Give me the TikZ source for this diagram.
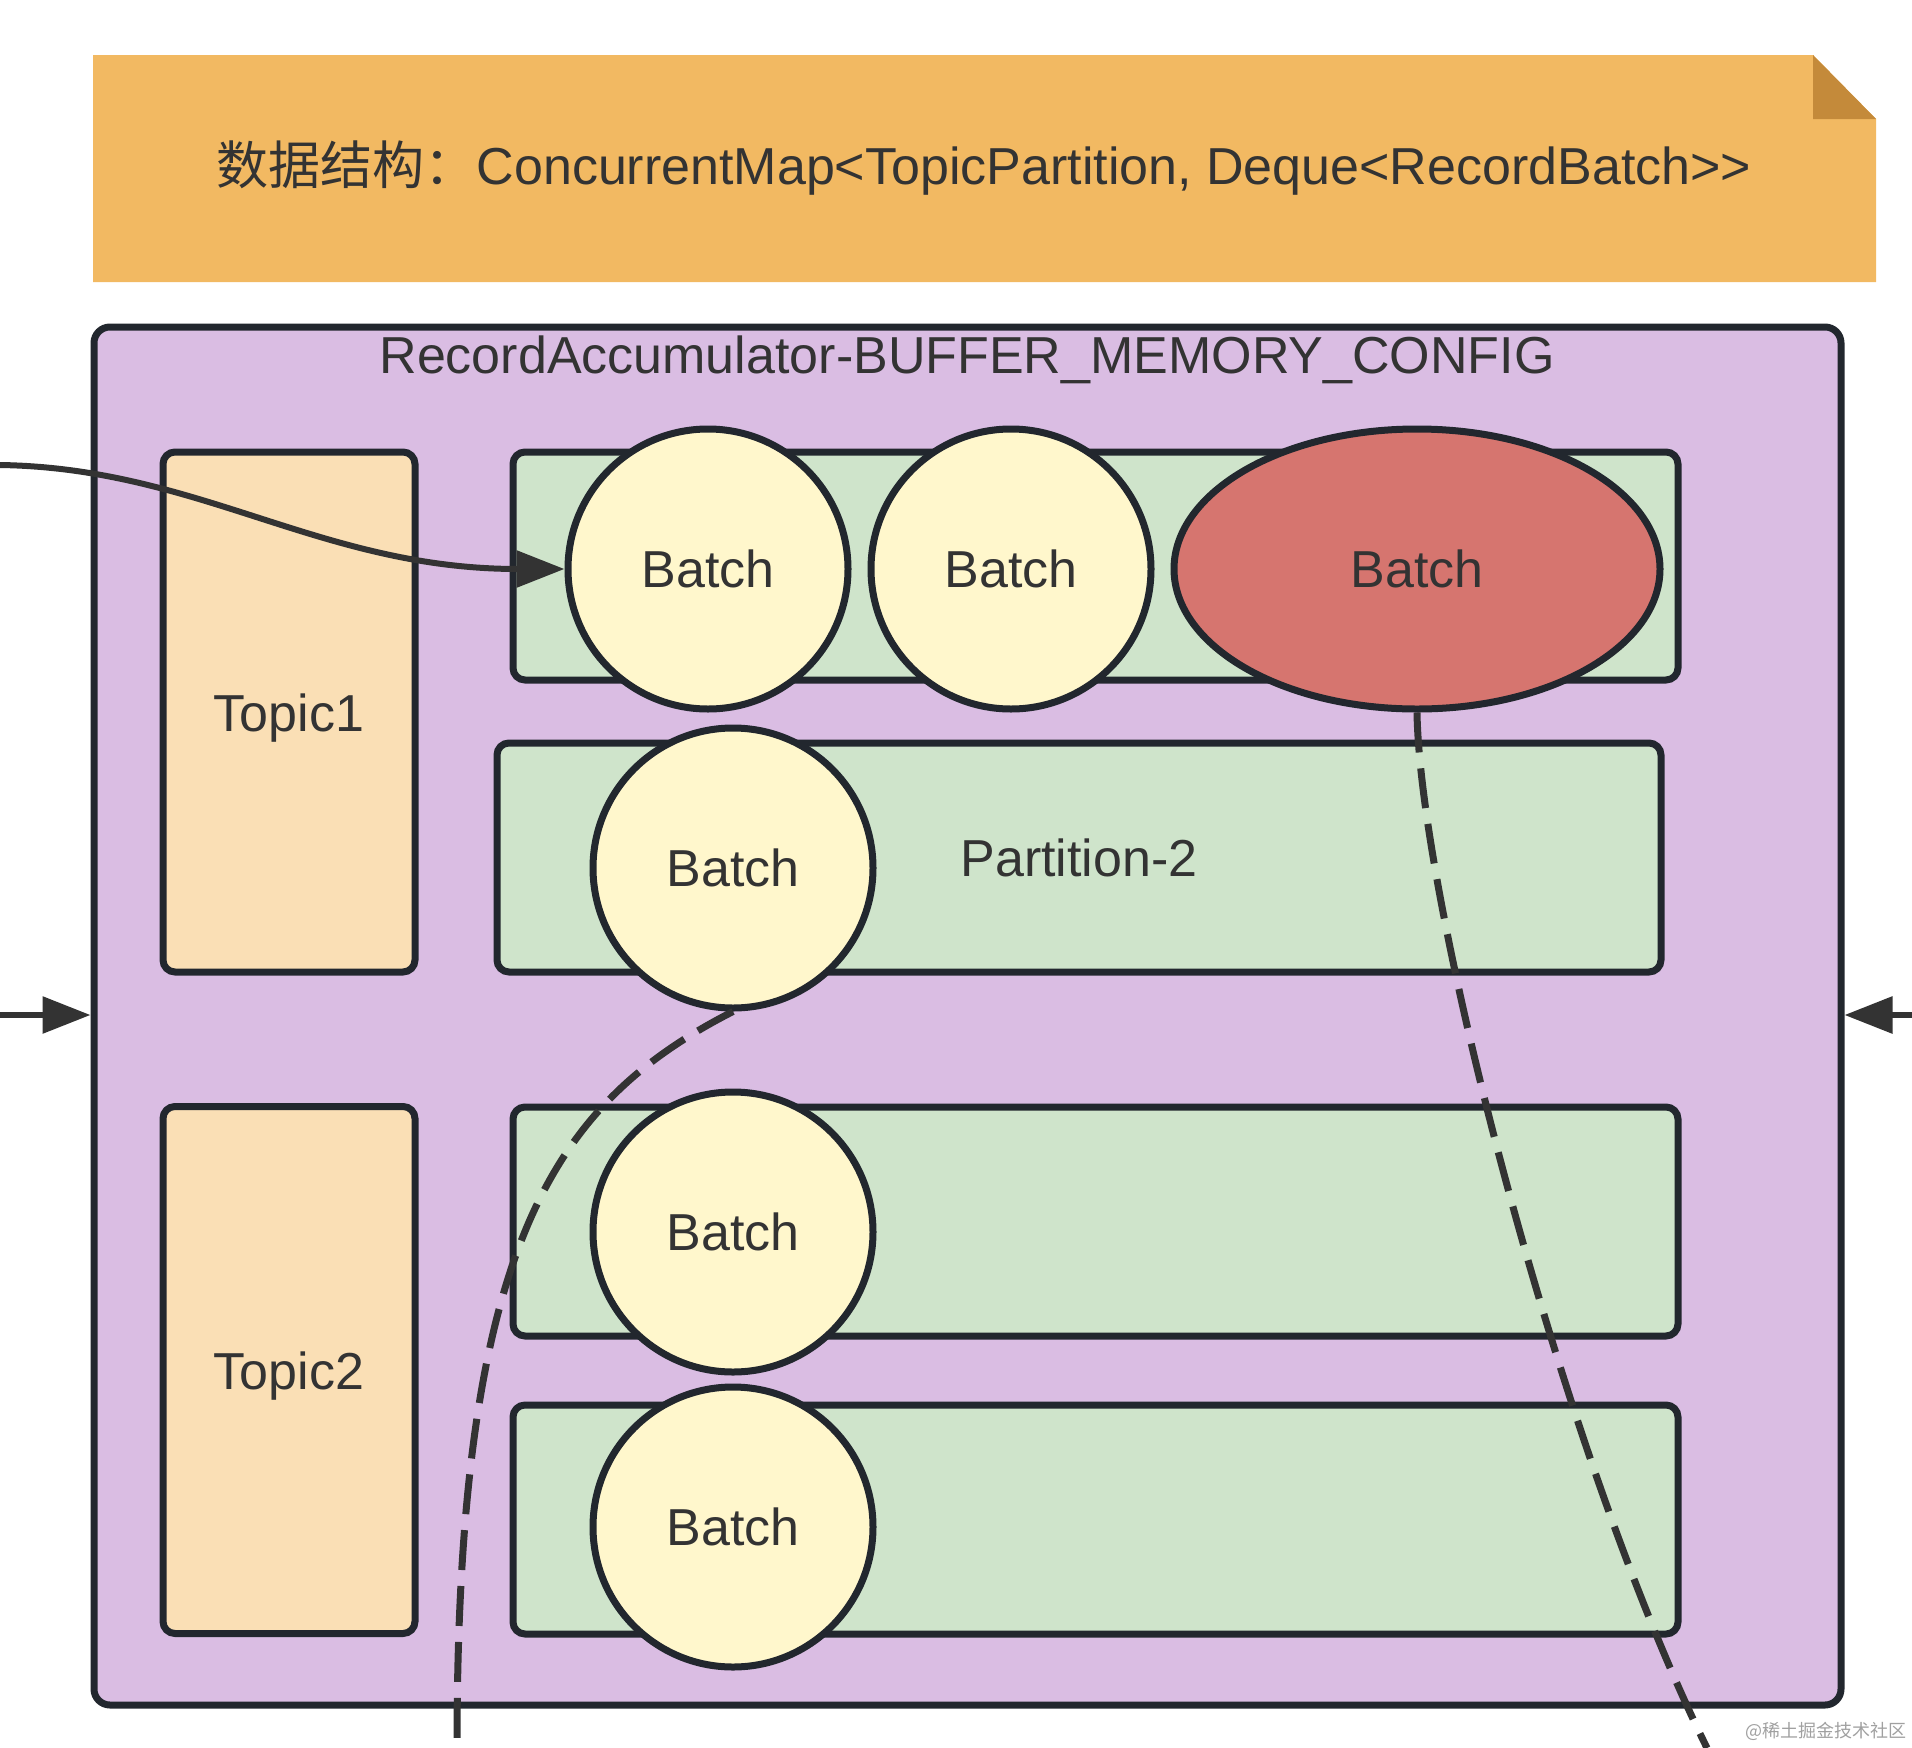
\documentclass[tikz,border=0pt]{standalone}
\usepackage{fontspec}
\setmainfont{Liberation Sans}
\newfontfamily\cjk{Noto Sans CJK SC}
\usetikzlibrary{arrows.meta,shapes.geometric}
\definecolor{notefill}{HTML}{F2B962}
\definecolor{folddark}{HTML}{C48A3A}
\definecolor{accfill}{HTML}{DABDE3}
\definecolor{topicfill}{HTML}{FADFB5}
\definecolor{partfill}{HTML}{CFE4CB}
\definecolor{batchfill}{HTML}{FFF7CC}
\definecolor{redfill}{HTML}{D6756F}
\definecolor{edge}{HTML}{22272E}
\definecolor{txt}{HTML}{333333}
\definecolor{wm}{HTML}{A0A0A0}
\begin{document}
\begin{tikzpicture}[x=1pt,y=-1pt,
  bigtext/.style={font=\fontsize{52}{60}\selectfont, text=txt},
  accbox/.style={draw=edge, line width=7pt, rounded corners=16pt, fill=accfill, inner sep=0pt},
  topicbox/.style={draw=edge, line width=7pt, rounded corners=12pt, fill=topicfill, inner sep=0pt, bigtext},
  partbox/.style={draw=edge, line width=7pt, rounded corners=12pt, fill=partfill, inner sep=0pt, bigtext},
  batch/.style={circle, draw=edge, line width=7pt, fill=batchfill, minimum size=280pt, inner sep=0pt, bigtext},
  redbatch/.style={ellipse, draw=edge, line width=7pt, fill=redfill, minimum width=486pt, minimum height=280pt, inner sep=0pt, bigtext},
  conn/.style={draw=txt, line width=6pt, -{Triangle[length=48pt,width=36pt]}},
  dashconn/.style={draw=txt, line width=7pt, dash pattern=on 40pt off 16pt}
]
\useasboundingbox (0,0) rectangle (1912,1748);
% note
\fill[notefill] (93,55) -- (1813,55) -- (1876,119) -- (1876,282) -- (93,282) -- cycle;
\fill[folddark] (1813,55) -- (1813,119) -- (1876,119) -- cycle;
\node[bigtext] (notetext) at (984,168) {{\cjk 数据结构：}ConcurrentMap<TopicPartition, Deque<RecordBatch>{}>};
% accumulator
\node[accbox, minimum width=1747pt, minimum height=1378pt] (acc) at (967.5,1016) {};
\node[bigtext] (acctitle) at (967,360) {RecordAccumulator-BUFFER\_MEMORY\_CONFIG};
% topics
\node[topicbox, minimum width=252pt, minimum height=520pt] (topic1) at (289,712) {};
\node[bigtext] (topic1text) at (289,718) {Topic1};
\node[topicbox, minimum width=252pt, minimum height=527pt] (topic2) at (289,1370) {};
\node[bigtext] (topic2text) at (289,1376) {Topic2};
% partitions
\node[partbox, minimum width=1165pt, minimum height=228pt] (p1) at (1095.5,566) {};
\node[partbox, minimum width=1164pt, minimum height=229pt] (p2) at (1079,857.5) {Partition-2};
\node[partbox, minimum width=1165pt, minimum height=229pt] (p3) at (1095.5,1221.5) {};
\node[partbox, minimum width=1165pt, minimum height=229pt] (p4) at (1095.5,1519.5) {};
% batches
\node[batch] (b1) at (708,569) {Batch};
\node[batch] (b2) at (1011,569) {Batch};
\node[batch] (b4) at (733,868) {Batch};
\node[batch] (b5) at (733,1232) {Batch};
\node[batch] (b6) at (733,1527) {Batch};
\node[redbatch] (bred) at (1417,569) {Batch};
% connectors
\coordinate (s1) at (0,465);
\coordinate (la) at (0,1015);
\coordinate (ra) at (1912,1015);
\coordinate (d1) at (457,1748);
\coordinate (d2) at (1707,1748);
\draw[conn] (s1) .. controls (200,468) and (320,569) .. (b1.west);
\draw[conn] (la) -- (acc.west |- la);
\draw[conn] (ra) -- (acc.east |- ra);
\draw[dashconn] (b4.south) .. controls (550,1105) and (457,1250) .. (d1);
\draw[dashconn] (bred.south) .. controls (1420,900) and (1560,1450) .. (d2);
% watermark
\node[font=\cjk\fontsize{18}{20}\selectfont, text=wm] (wmark) at (1826,1731) {@稀土掘金技术社区};
\end{tikzpicture}
\end{document}
